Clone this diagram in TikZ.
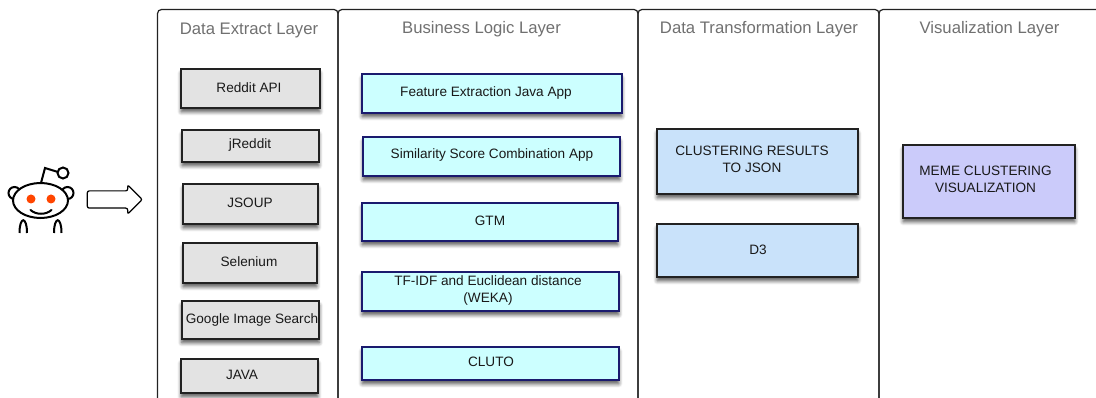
\documentclass[tikz,border=0pt]{standalone}
\usepackage{fontspec}
\setmainfont{Liberation Sans}
\usetikzlibrary{positioning,shapes.arrows,shapes.geometric,shadows.blur}
\definecolor{greyfill}{HTML}{E3E3E3}
\definecolor{cyanfill}{HTML}{CCFFFF}
\definecolor{bluefill}{HTML}{C9E2FA}
\definecolor{violetfill}{HTML}{CBCBFA}
\definecolor{navyline}{HTML}{1A1A6E}
\definecolor{darkline}{HTML}{222222}
\definecolor{titlegrey}{HTML}{707070}
\definecolor{redditeye}{HTML}{FF4500}
\tikzset{
  panel/.style={draw=darkline,line width=1.2pt,rounded corners=4pt},
  layertitle/.style={text=titlegrey,font=\fontsize{16.7}{19}\selectfont,inner sep=0pt},
  boxed/.style={draw=darkline,line width=1.8pt,inner sep=0pt,
    blur shadow={shadow xshift=0pt,shadow yshift=-4pt,shadow blur steps=6,shadow blur radius=4pt,shadow opacity=70}},
  size/.style 2 args={minimum width=#1pt-0.6pt,minimum height=#2pt-0.6pt},
  boxtext/.style={text=black!90,font=\fontsize{13.6}{17}\selectfont,align=center,inner sep=0pt},
  extract/.style={boxed,fill=greyfill},
  logic/.style={boxed,draw=navyline,fill=cyanfill},
  transform/.style={boxed,fill=bluefill},
  visual/.style={boxed,fill=violetfill},
  icon/.style={draw=black,line width=2pt}
}
\begin{document}
\begin{tikzpicture}[>=latex,x=1pt,y=-1pt]
\useasboundingbox (0,0) rectangle (1096,398);

% layers
\draw[panel] (157.5,398) -- (157.5,9.5) -- (338,9.5) -- (338,398);
\draw[panel] (338,398) -- (338,9.5) -- (638,9.5) -- (638,398);
\draw[panel] (638,398) -- (638,9.5) -- (879,9.5) -- (879,398);
\draw[panel] (879,398) -- (879,9.5) -- (1110,9.5);

\node[layertitle] (extract-title) at (249,30.5) {Data Extract Layer};
\node[layertitle] (logic-title) at (481.5,29.5) {Business Logic Layer};
\node[layertitle] (transform-title) at (759,29.5) {Data Transformation Layer};
\node[layertitle] (visual-title) at (989.5,29.5) {Visualization Layer};

% data extract
\node[extract,size={139}{39}] (reddit-api) at (250.5,88.5) {};
\node[boxtext] at (249,88) {Reddit API};
\node[extract,size={137}{32}] (jreddit) at (250.5,146) {};
\node[boxtext] at (250,145) {jReddit};
\node[extract,size={135}{40}] (jsoup) at (250.5,204) {};
\node[boxtext] at (250,203) {JSOUP};
\node[extract,size={134}{40}] (selenium) at (250,263) {};
\node[boxtext] at (249,262) {Selenium};
\node[extract,size={138}{38}] (google) at (250.5,320) {};
\node[boxtext] at (252,320) {Google Image Search};
\node[extract,size={137}{34}] (java) at (249.5,376) {};
\node[boxtext] at (242,375) {JAVA};

% business logic
\node[logic,size={260}{39}] (feature) at (492,93.5) {};
\node[boxtext] at (486,93) {Feature Extraction Java App};
\node[logic,size={257}{39}] (similarity) at (491.5,156.5) {};
\node[boxtext] at (492,155) {Similarity Score Combination App};
\node[logic,size={256}{38}] (gtm) at (490,222) {};
\node[boxtext] at (490,221) {GTM};
\node[logic,size={257}{39}] (tfidf) at (490.5,291.5) {};
\node[boxtext] at (488,290.5) {TF-IDF and Euclidean distance\\(WEKA)};
\node[logic,size={257}{33}] (cluto) at (490.5,363.5) {};
\node[boxtext] at (491,362) {CLUTO};

% data transformation
\node[transform,size={201}{65}] (clustering) at (757.5,161.5) {};
\node[boxtext] at (752,159.5) {CLUSTERING RESULTS\\TO JSON};
\node[transform,size={201}{53}] (d3) at (757.5,250.5) {};
\node[boxtext] at (758,250) {D3};

% visualization
\node[visual,size={172}{73}] (meme) at (989,181.5) {};
\node[boxtext] at (985.5,179.5) {MEME CLUSTERING\\VISUALIZATION};

% reddit alien
\draw[icon] (41,183) -- (45,168) -- (58,172);
\node[icon,circle,minimum size=11pt,inner sep=0pt] (antenna) at (63,173) {};
\node[icon,circle,minimum size=12pt,inner sep=0pt] (ear-left) at (14.5,193) {};
\node[icon,circle,minimum size=12pt,inner sep=0pt] (ear-right) at (67.5,193) {};
\draw[icon] (19.5,233) .. controls (19.5,216) and (27,216) .. (27,233);
\draw[icon] (54,233) .. controls (54,216) and (61.5,216) .. (61.5,233);
\node[icon,ellipse,fill=white,minimum width=55pt,minimum height=35pt,inner sep=0pt] (head) at (40.5,200.5) {};
\fill[redditeye] (31,199) circle (4.5) (51,199) circle (4.5);
\draw[icon,line cap=round] (30.5,210) .. controls (36,215) and (46,215) .. (51.5,210);

\node[single arrow,draw=black,line width=1.2pt,rounded corners=2pt,inner xsep=0pt,inner ysep=8pt,
  minimum height=55pt,single arrow head extend=6pt,
  single arrow head indent=0pt] (feed) at (110.5,199.5) {};

\end{tikzpicture}
\end{document}
